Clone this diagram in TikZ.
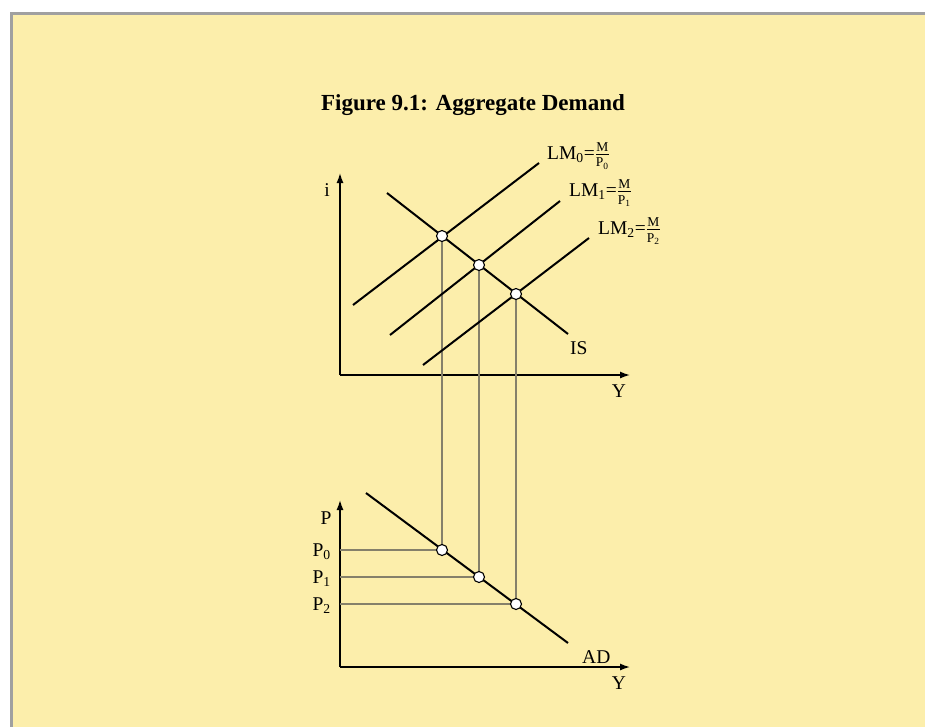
\documentclass[tikz,border=0pt]{standalone}
\usepackage{fontspec}
\usepackage{amsmath}
\setmainfont{Liberation Serif}
\usetikzlibrary{arrows.meta}
\definecolor{panel}{HTML}{FCEEAB}
\definecolor{frame}{HTML}{A0A0A0}
\definecolor{drop}{HTML}{85806A}
\newcommand{\fracpart}[1]{\hbox{\fontsize{13.5}{14}\selectfont #1}}
\newcommand{\lmlab}[1]{LM\textsubscript{#1}=$\genfrac{}{}{0.6pt}{1}{\fracpart{M}}{\fracpart{P\textsubscript{#1}}}$}
\tikzset{
  lbl/.style={inner sep=0pt, font=\fontsize{19.5}{22}\selectfont},
  axis/.style={line width=1.4pt, -{Latex[length=10pt,width=7pt]}},
  curve/.style={line width=2pt},
  dropline/.style={draw=drop, line width=1.1pt},
  eqpt/.style={circle, draw=black, fill=white, line width=1.1pt, minimum size=11pt, inner sep=0pt},
}
\begin{document}
\begin{tikzpicture}[x=1pt,y=-1pt]
\useasboundingbox (0,0) rectangle (925,726);
\fill[white] (0,0) rectangle (925,726);
\begin{scope}
\clip (0,0) rectangle (925,726);
\draw[frame, fill=panel, line width=3pt] (11.5,13.5) rectangle (940,740);
\end{scope}
% title
\node[font=\bfseries\fontsize{23}{26}\selectfont, anchor=base, inner sep=0pt] (title) at (473,110) {Figure 9.1: Aggregate Demand};
% top axes
\coordinate (o1) at (340,375);
\coordinate (iy) at (340,173);
\coordinate (ix) at (630,375);
\draw[axis] (o1) -- (iy);
\draw[axis] (o1) -- (ix);
\node[lbl] (ilab) at (327,190) {i};
\node[lbl, anchor=north] (ylab1) at (619,385) {Y};
% bottom axes
\coordinate (o2) at (340,667);
\coordinate (py) at (340,500);
\coordinate (px) at (630,667);
\draw[axis] (o2) -- (py);
\draw[axis] (o2) -- (px);
\node[lbl] (plab) at (326,518) {P};
\node[lbl, anchor=north] (ylab2) at (619,677) {Y};
% equilibrium coordinates
\coordinate (E0) at (442,236);
\coordinate (E1) at (479,265);
\coordinate (E2) at (516,294);
\coordinate (A0) at (442,550);
\coordinate (A1) at (479,577);
\coordinate (A2) at (516,604);
\coordinate (B0) at (340,550);
\coordinate (B1) at (340,577);
\coordinate (B2) at (340,604);
% drop lines
\draw[dropline] (E0) -- (A0);
\draw[dropline] (E1) -- (A1);
\draw[dropline] (E2) -- (A2);
\draw[dropline] (B0) -- (A0);
\draw[dropline] (B1) -- (A1);
\draw[dropline] (B2) -- (A2);
% curves
\coordinate (is1) at (387,193); \coordinate (is2) at (568,334);
\coordinate (lm0a) at (353,305); \coordinate (lm0b) at (539,163);
\coordinate (lm1a) at (390,335); \coordinate (lm1b) at (560,201);
\coordinate (lm2a) at (423,365); \coordinate (lm2b) at (589,238);
\coordinate (ad1) at (366,493); \coordinate (ad2) at (568,643);
\draw[curve] (is1) -- (is2);
\draw[curve] (lm0a) -- (lm0b);
\draw[curve] (lm1a) -- (lm1b);
\draw[curve] (lm2a) -- (lm2b);
\draw[curve] (ad1) -- (ad2);
% points
\node[eqpt] (e0) at (E0) {};
\node[eqpt] (e1) at (E1) {};
\node[eqpt] (e2) at (E2) {};
\node[eqpt] (a0) at (A0) {};
\node[eqpt] (a1) at (A1) {};
\node[eqpt] (a2) at (A2) {};
% labels
\node[lbl, anchor=west] (lm0lab) at (547,156) {\lmlab{0}};
\node[lbl, anchor=west] (lm1lab) at (569,193) {\lmlab{1}};
\node[lbl, anchor=west] (lm2lab) at (598,231) {\lmlab{2}};
\node[lbl, anchor=west] (islab) at (570,348) {IS};
\node[lbl, anchor=west] (adlab) at (582,657) {AD};
\node[lbl, anchor=east] (p0lab) at (331,552) {P\textsubscript{0}};
\node[lbl, anchor=east] (p1lab) at (331,579) {P\textsubscript{1}};
\node[lbl, anchor=east] (p2lab) at (331,606) {P\textsubscript{2}};
\end{tikzpicture}
\end{document}
